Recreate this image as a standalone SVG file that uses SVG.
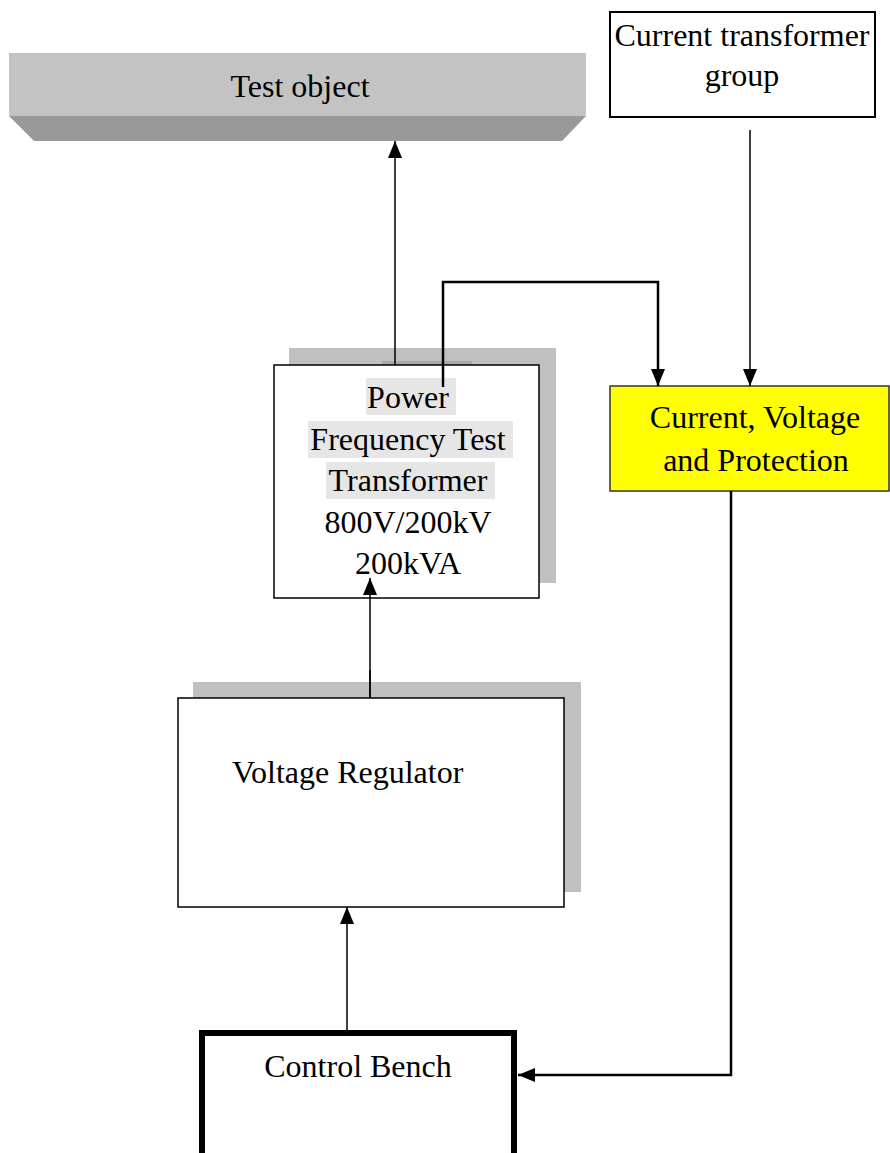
<svg xmlns="http://www.w3.org/2000/svg" width="890" height="1153" viewBox="0 0 890 1153">
<defs>
<style>
text{font-family:"Liberation Serif","Times New Roman",serif;font-size:32px;fill:#000}
.c{text-anchor:middle}
.thin{stroke:#000;stroke-width:1.5;fill:none}
.thick{stroke:#000;stroke-width:2.5;fill:none}
.hl{fill:#e6e6e6}
.sh{fill:#c0c0c0}
</style>
<marker id="ah" markerWidth="17" markerHeight="14" refX="17" refY="7" orient="auto" markerUnits="userSpaceOnUse">
<path d="M0,0 L17,7 L0,14 Z" fill="#000"/>
</marker>
</defs>
<rect width="890" height="1153" fill="#fff"/>

<g id="test-object">
<polygon points="9,53 586,53 586,116 9,116" fill="#c3c3c3"/>
<polygon points="9,116 586,116 562,141 34,141" fill="#999999"/>
<text class="c" x="300" y="97">Test object</text>
</g>

<g id="ct-group">
<rect x="610" y="12" width="265" height="105" fill="#fff" stroke="#000" stroke-width="2"/>
<text class="c" x="742" y="46">Current transformer</text>
<text class="c" x="742" y="86">group</text>
</g>

<g id="transformer">
<rect class="sh" x="289" y="348" width="267" height="235"/>
<rect x="382" y="361" width="90" height="4" fill="#a8a8a8"/>
<rect x="274" y="365" width="265" height="233" fill="#fff" stroke="#000" stroke-width="1.5"/>
<rect class="hl" x="366" y="378" width="90" height="37"/>
<rect class="hl" x="308" y="421" width="205" height="37"/>
<rect class="hl" x="326" y="462" width="169" height="37"/>
<text class="c" x="408" y="408">Power</text>
<text class="c" x="408" y="450">Frequency Test</text>
<text class="c" x="408" y="491">Transformer</text>
<text class="c" x="408" y="533">800V/200kV</text>
<text class="c" x="408" y="574">200kVA</text>
</g>

<g id="protection">
<rect x="610" y="386" width="279" height="105" fill="#ffff00" stroke="#333" stroke-width="1.5"/>
<text class="c" x="755" y="428">Current, Voltage</text>
<text class="c" x="756" y="471">and Protection</text>
</g>

<g id="regulator">
<rect class="sh" x="193" y="682" width="388" height="210"/>
<rect x="178" y="698" width="386" height="209" fill="#fff" stroke="#000" stroke-width="1.5"/>
<text x="232" y="783">Voltage Regulator</text>
</g>

<g id="control-bench">
<rect x="202" y="1033" width="312" height="160" fill="#fff" stroke="#000" stroke-width="6"/>
<text class="c" x="358" y="1077">Control Bench</text>
</g>

<g id="connectors">
<line class="thin" x1="395" y1="365" x2="395" y2="141" marker-end="url(#ah)"/>
<polyline class="thick" points="443,387 443,282 658,282 658,386" marker-end="url(#ah)"/>
<line class="thin" x1="750" y1="130" x2="750" y2="386" marker-end="url(#ah)"/>
<line class="thin" x1="370" y1="698" x2="370" y2="578" marker-end="url(#ah)"/>
<line class="thin" x1="370" y1="670" x2="370" y2="698"/>
<line class="thin" x1="347" y1="1030" x2="347" y2="907" marker-end="url(#ah)"/>
<polyline class="thick" points="731,491 731,1075 518,1075" marker-end="url(#ah)"/>
</g>
</svg>
